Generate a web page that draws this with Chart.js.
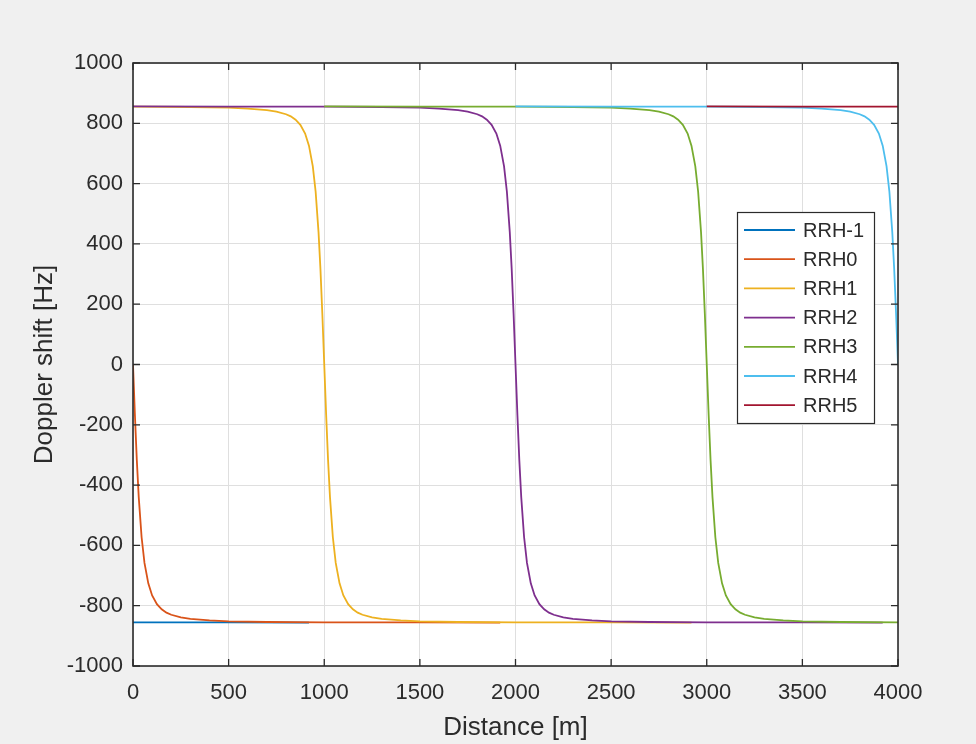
<!DOCTYPE html>
<html><head><meta charset="utf-8">
<script src="https://cdn.jsdelivr.net/npm/chart.js@4.4.1/dist/chart.umd.min.js"></script>
<style>
html,body{margin:0;padding:0;background:#f0f0f0;}
#wrap{width:976px;height:744px;position:relative;background:#f0f0f0;}
canvas{display:block;}
</style></head><body>
<div id="wrap"><canvas id="c" width="976" height="744"></canvas></div>
<script>
// ---- data ----
const seriesNames = ["RRH-1", "RRH0", "RRH1", "RRH2", "RRH3", "RRH4", "RRH5"];
const seriesColors = ["#0072BD", "#D95319", "#EDB120", "#7E2F8E", "#77AC30", "#4DBEEE", "#A2142F"];

const distRRHm1 = [0, 500, 920];
const dopRRHm1  = [-855, -855, -856];

const distRRH0 = [0,10,20,30,45,60,80,100,125,150,175,200,250,300,400,500,700,1000,1500,1920];
const dopRRH0  = [0,-168,-318,-440,-573,-658,-726,-766,-795,-812,-823,-830,-839,-844,-849,-852,-854,-855,-855,-856];

const distRRH1 = [0,300,500,600,700,750,800,825,850,875,900,920,940,955,970,980,990,1000,
                  1010,1020,1030,1045,1060,1080,1100,1125,1150,1175,1200,1250,1300,1400,1500,1700,2000,2500,2920];
const dopRRH1  = [855,854,852,849,844,839,830,823,812,795,766,726,658,573,440,318,168,0,
                  -168,-318,-440,-573,-658,-726,-766,-795,-812,-823,-830,-839,-844,-849,-852,-854,-855,-855,-856];

const distRRH2 = [0,500,1000,1300,1500,1600,1700,1750,1800,1825,1850,1875,1900,1920,1940,1955,1970,1980,1990,2000,
                  2010,2020,2030,2045,2060,2080,2100,2125,2150,2175,2200,2250,2300,2400,2500,2700,3000,3500,3920];
const dopRRH2  = [856,855,855,854,852,849,844,839,830,823,812,795,766,726,658,573,440,318,168,0,
                  -168,-318,-440,-573,-658,-726,-766,-795,-812,-823,-830,-839,-844,-849,-852,-854,-855,-855,-856];

const distRRH3 = [1000,1500,2000,2300,2500,2600,2700,2750,2800,2825,2850,2875,2900,2920,2940,2955,2970,2980,2990,3000,
                  3010,3020,3030,3045,3060,3080,3100,3125,3150,3175,3200,3250,3300,3400,3500,3700,4000];
const dopRRH3  = [856,855,855,854,852,849,844,839,830,823,812,795,766,726,658,573,440,318,168,0,
                  -168,-318,-440,-573,-658,-726,-766,-795,-812,-823,-830,-839,-844,-849,-852,-854,-855];

const distRRH4 = [2000,2500,3000,3300,3500,3600,3700,3750,3800,3825,3850,3875,3900,3920,3940,3955,3970,3980,3990,4000];
const dopRRH4  = [856,855,855,854,852,849,844,839,830,823,812,795,766,726,658,573,440,318,168,0];

const distRRH5 = [3000, 3500, 4000];
const dopRRH5  = [856, 855, 855];

const xTickValues = [0, 500, 1000, 1500, 2000, 2500, 3000, 3500, 4000];
const yTickValues = [-1000, -800, -600, -400, -200, 0, 200, 400, 600, 800, 1000];
const xTitle = "Distance [m]";
const yTitle = "Doppler shift [Hz]";

// ---- build ----
const allDist = [distRRHm1, distRRH0, distRRH1, distRRH2, distRRH3, distRRH4, distRRH5];
const allDop  = [dopRRHm1, dopRRH0, dopRRH1, dopRRH2, dopRRH3, dopRRH4, dopRRH5];

const FONT = "'Liberation Sans', Arial, Helvetica, sans-serif";
const INK = "#2b2b2b";

const datasets = seriesNames.map((name, i) => ({
  label: name,
  data: allDist[i].map((x, j) => ({x: x, y: allDop[i][j]})),
  borderColor: seriesColors[i],
  backgroundColor: seriesColors[i],
  borderWidth: 1.8,
  pointRadius: 0,
  showLine: true,
  tension: 0,
  fill: false,
  order: seriesNames.length - i   // later series drawn on top, like the original
}));

const framePlugin = {
  id: 'frame',
  beforeDraw(chart) {
    const {ctx, chartArea: a} = chart;
    ctx.save();
    ctx.fillStyle = '#f0f0f0';
    ctx.fillRect(0, 0, chart.width, chart.height);
    ctx.fillStyle = '#ffffff';
    ctx.fillRect(a.left, a.top, a.right - a.left, a.bottom - a.top);
    ctx.restore();
  },
  afterDatasetsDraw(chart) {
    const {ctx, chartArea: a, scales} = chart;
    ctx.save();
    ctx.strokeStyle = INK;
    ctx.lineWidth = 1.3;
    const tl = 7;
    ctx.beginPath();
    xTickValues.forEach(v => {
      const px = scales.x.getPixelForValue(v);
      ctx.moveTo(px, a.bottom); ctx.lineTo(px, a.bottom - tl);
      ctx.moveTo(px, a.top); ctx.lineTo(px, a.top + tl);
    });
    yTickValues.forEach(v => {
      const py = scales.y.getPixelForValue(v);
      ctx.moveTo(a.left, py); ctx.lineTo(a.left + tl, py);
      ctx.moveTo(a.right, py); ctx.lineTo(a.right - tl, py);
    });
    ctx.stroke();
    ctx.lineWidth = 1.6;
    ctx.strokeRect(a.left, a.top, a.right - a.left, a.bottom - a.top);
    ctx.restore();
  },
  afterDraw(chart) {
    const {ctx, chartArea: a} = chart;
    const bw = 137, bh = 211;
    const bx = a.right - 24 - bw, by = a.top + 149;
    ctx.save();
    ctx.fillStyle = '#ffffff';
    ctx.fillRect(bx, by, bw, bh);
    ctx.strokeStyle = INK;
    ctx.lineWidth = 1.2;
    ctx.strokeRect(bx + 0.5, by + 0.5, bw, bh);
    ctx.font = "20px " + FONT;
    ctx.textBaseline = 'middle';
    ctx.textAlign = 'left';
    seriesNames.forEach((name, i) => {
      const y = by + 18 + i * 29.2;
      ctx.strokeStyle = seriesColors[i];
      ctx.lineWidth = 1.8;
      ctx.beginPath();
      ctx.moveTo(bx + 7, y); ctx.lineTo(bx + 58, y);
      ctx.stroke();
      ctx.fillStyle = INK;
      ctx.fillText(name, bx + 66, y + 1);
    });
    ctx.restore();
  }
};

new Chart(document.getElementById('c'), {
  type: 'scatter',
  data: { datasets },
  plugins: [framePlugin],
  options: {
    responsive: false,
    animation: false,
    devicePixelRatio: 1,
    layout: { padding: { left: 0, right: 78, top: 63, bottom: 0 } },
    plugins: { legend: { display: false }, tooltip: { enabled: false } },
    scales: {
      x: {
        type: 'linear', min: 0, max: 4000,
        afterBuildTicks: s => { s.ticks = xTickValues.map(v => ({value: v})); },
        afterFit: s => { s.height = 78; },
        grid: { color: '#dfdfdf', lineWidth: 1, drawTicks: false },
        border: { display: false },
        ticks: { color: INK, font: { size: 22, family: FONT }, padding: 14, maxRotation: 0,
                 callback: v => String(v) },
        title: { display: true, text: xTitle, color: INK, font: { size: 26, family: FONT },
                 padding: { top: 0, bottom: 1 } }
      },
      y: {
        type: 'linear', min: -1000, max: 1000,
        afterBuildTicks: s => { s.ticks = yTickValues.map(v => ({value: v})); },
        afterFit: s => { s.width = 133; },
        grid: { color: '#dfdfdf', lineWidth: 1, drawTicks: false },
        border: { display: false },
        ticks: { color: INK, font: { size: 22, family: FONT }, padding: 10,
                 callback: v => String(v) },
        title: { display: true, text: yTitle, color: INK, font: { size: 26, family: FONT },
                 padding: { top: 29, bottom: 0 } }
      }
    }
  }
});
</script>
</body></html>
